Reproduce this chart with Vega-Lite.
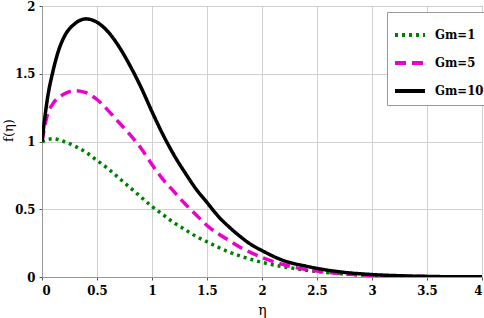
{
  "$schema": "https://vega.github.io/schema/vega-lite/v6.json",
  "width": 440,
  "height": 271,
  "padding": {"left": 42, "top": 6, "right": 2, "bottom": 41},
  "autosize": {"type": "none"},
  "background": "white",
  "config": {
    "view": {"stroke": "#999999", "strokeWidth": 1},
    "font": "DejaVu Serif Condensed",
    "axis": {
      "labelFont": "DejaVu Serif Condensed", "labelFontWeight": "bold", "labelFontSize": 13, "labelColor": "#000",
      "titleFont": "DejaVu Serif", "titleFontWeight": "normal", "titleFontSize": 14, "titleColor": "#000",
      "domainColor": "#999999", "tickColor": "#555", "tickSize": 3, "grid": true, "gridColor": "#d0d0d0", "gridWidth": 1
    }
  },
  "data": {"values": [
    {"s":"Gm=1","x":0,"y":1.0},{"s":"Gm=1","x":0.1,"y":1.02},{"s":"Gm=1","x":0.2,"y":1.0},{"s":"Gm=1","x":0.3,"y":0.965},{"s":"Gm=1","x":0.4,"y":0.92},{"s":"Gm=1","x":0.5,"y":0.86},{"s":"Gm=1","x":0.6,"y":0.8},{"s":"Gm=1","x":0.7,"y":0.73},{"s":"Gm=1","x":0.8,"y":0.66},{"s":"Gm=1","x":0.9,"y":0.59},{"s":"Gm=1","x":1.0,"y":0.52},{"s":"Gm=1","x":1.1,"y":0.46},{"s":"Gm=1","x":1.2,"y":0.4},{"s":"Gm=1","x":1.3,"y":0.35},{"s":"Gm=1","x":1.4,"y":0.3},{"s":"Gm=1","x":1.5,"y":0.26},{"s":"Gm=1","x":1.6,"y":0.22},{"s":"Gm=1","x":1.7,"y":0.185},{"s":"Gm=1","x":1.8,"y":0.155},{"s":"Gm=1","x":1.9,"y":0.13},{"s":"Gm=1","x":2.0,"y":0.108},{"s":"Gm=1","x":2.2,"y":0.075},{"s":"Gm=1","x":2.4,"y":0.05},{"s":"Gm=1","x":2.6,"y":0.032},{"s":"Gm=1","x":2.8,"y":0.02},{"s":"Gm=1","x":3.0,"y":0.012},{"s":"Gm=1","x":3.5,"y":0.003},{"s":"Gm=1","x":4.0,"y":0.001},
    {"s":"Gm=5","x":0,"y":1.0},{"s":"Gm=5","x":0.05,"y":1.2},{"s":"Gm=5","x":0.1,"y":1.28},{"s":"Gm=5","x":0.2,"y":1.35},{"s":"Gm=5","x":0.3,"y":1.375},{"s":"Gm=5","x":0.4,"y":1.36},{"s":"Gm=5","x":0.5,"y":1.31},{"s":"Gm=5","x":0.6,"y":1.23},{"s":"Gm=5","x":0.7,"y":1.14},{"s":"Gm=5","x":0.8,"y":1.05},{"s":"Gm=5","x":0.9,"y":0.95},{"s":"Gm=5","x":1.0,"y":0.83},{"s":"Gm=5","x":1.1,"y":0.72},{"s":"Gm=5","x":1.2,"y":0.63},{"s":"Gm=5","x":1.3,"y":0.54},{"s":"Gm=5","x":1.4,"y":0.46},{"s":"Gm=5","x":1.5,"y":0.38},{"s":"Gm=5","x":1.6,"y":0.32},{"s":"Gm=5","x":1.7,"y":0.27},{"s":"Gm=5","x":1.8,"y":0.22},{"s":"Gm=5","x":1.9,"y":0.18},{"s":"Gm=5","x":2.0,"y":0.145},{"s":"Gm=5","x":2.2,"y":0.09},{"s":"Gm=5","x":2.4,"y":0.055},{"s":"Gm=5","x":2.6,"y":0.035},{"s":"Gm=5","x":2.8,"y":0.02},{"s":"Gm=5","x":3.0,"y":0.012},{"s":"Gm=5","x":3.5,"y":0.003},{"s":"Gm=5","x":4.0,"y":0.001},
    {"s":"Gm=10","x":0,"y":1.0},{"s":"Gm=10","x":0.05,"y":1.32},{"s":"Gm=10","x":0.1,"y":1.52},{"s":"Gm=10","x":0.15,"y":1.67},{"s":"Gm=10","x":0.2,"y":1.77},{"s":"Gm=10","x":0.3,"y":1.87},{"s":"Gm=10","x":0.4,"y":1.905},{"s":"Gm=10","x":0.5,"y":1.88},{"s":"Gm=10","x":0.6,"y":1.81},{"s":"Gm=10","x":0.7,"y":1.7},{"s":"Gm=10","x":0.8,"y":1.56},{"s":"Gm=10","x":0.9,"y":1.4},{"s":"Gm=10","x":1.0,"y":1.22},{"s":"Gm=10","x":1.1,"y":1.05},{"s":"Gm=10","x":1.2,"y":0.9},{"s":"Gm=10","x":1.3,"y":0.77},{"s":"Gm=10","x":1.4,"y":0.65},{"s":"Gm=10","x":1.5,"y":0.55},{"s":"Gm=10","x":1.6,"y":0.45},{"s":"Gm=10","x":1.7,"y":0.37},{"s":"Gm=10","x":1.8,"y":0.3},{"s":"Gm=10","x":1.9,"y":0.24},{"s":"Gm=10","x":2.0,"y":0.195},{"s":"Gm=10","x":2.2,"y":0.12},{"s":"Gm=10","x":2.4,"y":0.08},{"s":"Gm=10","x":2.6,"y":0.05},{"s":"Gm=10","x":2.8,"y":0.03},{"s":"Gm=10","x":3.0,"y":0.018},{"s":"Gm=10","x":3.3,"y":0.008},{"s":"Gm=10","x":3.6,"y":0.003},{"s":"Gm=10","x":4.0,"y":0.001}
  ]},
  "mark": {"type": "line", "strokeWidth": 3.5, "interpolate": "monotone", "clip": true},
  "encoding": {
    "x": {"field": "x", "type": "quantitative", "scale": {"domain": [0, 4], "nice": false},
      "axis": {"values": [0,0.5,1,1.5,2,2.5,3,3.5,4], "format": "~g", "title": "η", "titlePadding": 6, "labelPadding": 4}},
    "y": {"field": "y", "type": "quantitative", "scale": {"domain": [0, 2], "nice": false},
      "axis": {"values": [0,0.5,1,1.5,2], "format": "~g", "title": "f(η)", "titleX": -34, "titleY": 124, "titleBaseline": "middle", "titleFontSize": 13, "labelPadding": 4}},
    "color": {"field": "s", "type": "nominal",
      "scale": {"domain": ["Gm=1","Gm=5","Gm=10"], "range": ["#008000","#ee00cc","#000000"]},
      "legend": {"orient": "none", "legendX": 345, "legendY": 6, "title": null,
        "symbolType": "stroke", "symbolStrokeWidth": 4, "symbolSize": 900,
        "labelFont": "DejaVu Serif Condensed", "labelFontWeight": "bold", "labelFontSize": 13, "labelColor": "#000",
        "strokeColor": "#999999", "fillColor": "white", "padding": 6, "rowPadding": 3, "labelOffset": 8}},
    "strokeDash": {"field": "s", "type": "nominal",
      "scale": {"domain": ["Gm=1","Gm=5","Gm=10"], "range": [[3,4],[11,6],[1,0]]}},
    "order": {"field": "x", "type": "quantitative"}
  }
}
